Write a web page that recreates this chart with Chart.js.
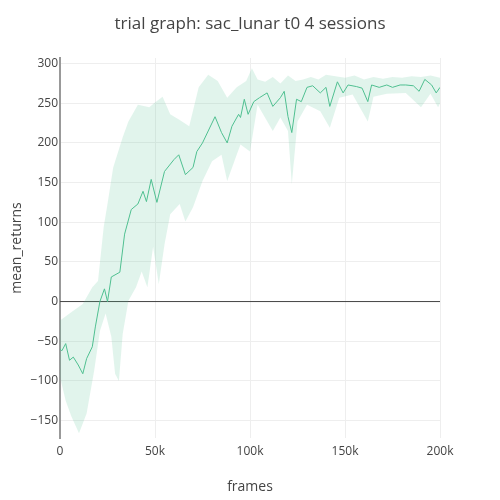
<!DOCTYPE html>
<html><head><meta charset="utf-8">
<script src="https://cdn.jsdelivr.net/npm/chart.js@4"></script>
<style>html,body{margin:0;padding:0;background:#fff}#w{width:500px;height:500px}</style>
</head><body><div id="w"><canvas id="c" width="500" height="500"></canvas></div>
<script>
const titleText = "trial graph: sac_lunar t0 4 sessions";
const xTitle = "frames";
const yTitle = "mean_returns";
const xTicks = [0, 50000, 100000, 150000, 200000];
const yTicks = [-150, -100, -50, 0, 50, 100, 150, 200, 250, 300];

const meanFrames = [0,1,3,5,7,9.6,12,14,17,18.6,21,23.4,25,27,30,31.5,34,37.5,41,43.7,45.5,48,51,55,60,62.5,66,70,72,75,78,81.6,85,88,90.5,94,95,97,99,102,105,109,112,116,118,120,122,124.5,127,130,133,137,140,142,146,149,151.6,156,159,162,164,168,172,175,179,182,186,189,192,195.6,198,200];
const meanValues = [-60,-62,-53,-74,-70,-80,-91,-72,-57,-32,0,16,0,31,35,37,85,116,123,139,126,154,125,164,179,185,160,169,189,200,215,233,213,200,221,236,232,255,236,252,257,263,246,257,265,233,213,255,252,270,272,263,270,246,277,263,273,271,269,252,273,270,273,270,273,273,272,265,280,273,263,270];

const upperFrames = [0,5,12,17,20,23,25,28,33,36,41,47,50,54,58,63,68,73,78,83,88,93,98,101,104,108,112,116,120,124,128,132,136,140,145,150,155,160,165,170,175,180,185,190,195,200];
const upperValues = [-24,-15,-3,18,26,94,123,169,207,227,248,245,251,258,236,229,221,270,286,278,257,270,278,294,280,277,283,275,285,278,280,283,280,286,284,282,285,280,283,281,283,282,284,283,285,282];

const lowerFrames = [0,3,6,10,14,18,21,24,27,29,31,33,36,40,43,46,49,52,55,58,63,66,70,75,80,85,88,93,95,100,104,112,116,120,122,125,130,137,142,147,154,162,165,172,182,190,195,199,200];
const lowerValues = [-95,-125,-145,-166,-141,-87,-37,-15,-44,-91,-100,-41,1,18,38,18,69,22,72,110,123,101,119,152,177,185,152,185,198,189,248,215,232,215,148,227,248,240,219,257,261,227,258,262,263,245,262,245,250];

const pts = (xs, ys) => xs.map((x, i) => ({x: x * 1000, y: ys[i]}));
const lineColor = 'rgb(80,192,145)';
const bandColor = 'rgba(80,192,145,0.17)';

const textPlugin = {
  id: 'texts',
  afterDraw(chart) {
    const ctx = chart.ctx, a = chart.chartArea;
    ctx.save();
    ctx.fillStyle = '#444';
    ctx.font = '17px "Open Sans", sans-serif';
    ctx.textAlign = 'center'; ctx.textBaseline = 'middle';
    ctx.fillText(titleText, 250, 24);
    ctx.font = '14px "Open Sans", sans-serif';
    ctx.fillText(xTitle, (a.left + a.right) / 2, 487);
    ctx.translate(17, (a.top + a.bottom) / 2);
    ctx.rotate(-Math.PI / 2);
    ctx.fillText(yTitle, 0, 0);
    ctx.restore();
  },
  beforeDatasetsDraw(chart) {
    const ctx = chart.ctx, a = chart.chartArea, y = chart.scales.y.getPixelForValue(0);
    ctx.save();
    ctx.strokeStyle = '#444'; ctx.lineWidth = 1;
    ctx.beginPath(); ctx.moveTo(a.left, y); ctx.lineTo(a.right, y); ctx.stroke();
    ctx.restore();
  }
};

new Chart(document.getElementById('c'), {
  type: 'line',
  data: {
    datasets: [
      {data: pts(upperFrames, upperValues), borderWidth: 0, pointRadius: 0, backgroundColor: bandColor, fill: '+1', borderColor: 'transparent', tension: 0},
      {data: pts(lowerFrames, lowerValues), borderWidth: 0, pointRadius: 0, borderColor: 'transparent', fill: false, tension: 0},
      {data: pts(meanFrames, meanValues), borderWidth: 1, pointRadius: 0, borderColor: lineColor, fill: false, tension: 0}
    ]
  },
  options: {
    responsive: false, animation: false, devicePixelRatio: 1,
    layout: {padding: {top: 58, right: 60, left: 0, bottom: 0}},
    plugins: {legend: {display: false}, tooltip: {enabled: false}},
    scales: {
      x: {
        type: 'linear', min: 0, max: 200000,
        afterBuildTicks: s => { s.ticks = xTicks.map(v => ({value: v})); },
        afterFit: s => { s.height = 62; },
        grid: {color: '#eee', drawTicks: false},
        border: {display: false},
        ticks: {color: '#444', font: {size: 12, family: '"Open Sans", sans-serif'}, padding: 6, maxRotation: 0,
          callback: v => v === 0 ? '0' : (v / 1000) + 'k'}
      },
      y: {
        min: -172, max: 307,
        afterBuildTicks: s => { s.ticks = yTicks.map(v => ({value: v})); },
        afterFit: s => { s.width = 60; },
        grid: {color: '#eee', drawTicks: false},
        border: {display: true, color: '#999', width: 2},
        ticks: {color: '#444', font: {size: 12, family: '"Open Sans", sans-serif'}, padding: 2,
          callback: v => v < 0 ? '\u2212' + Math.abs(v) : String(v)}
      }
    }
  },
  plugins: [textPlugin]
});
</script></body></html>
